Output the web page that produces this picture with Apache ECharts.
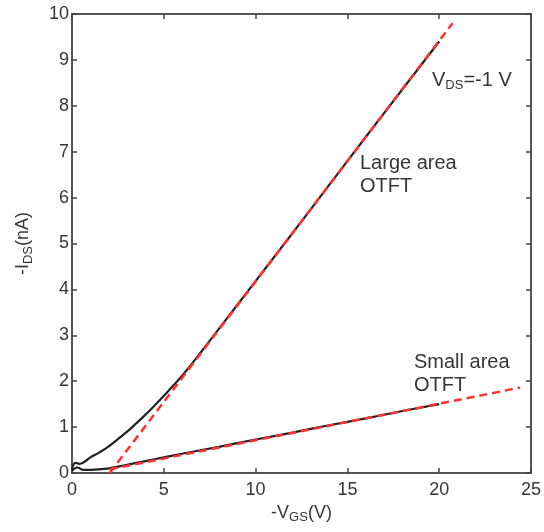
<!DOCTYPE html>
<html><head><meta charset="utf-8">
<script src="https://cdn.jsdelivr.net/npm/echarts@6/dist/echarts.min.js"></script>
<style>html,body{margin:0;padding:0;background:#fff}#c{width:544px;height:532px}</style>
</head><body><div id="c"></div>
<script>
var xTicks = [0, 5, 10, 15, 20, 25];
var yTicks = [0, 1, 2, 3, 4, 5, 6, 7, 8, 9, 10];
var largeMeasured = [[0,0.08],[0.2,0.22],[0.4,0.2],[0.7,0.25],[1,0.34],[1.5,0.45],[2,0.58],[2.5,0.74],[3,0.9],[3.5,1.08],[4,1.27],[4.5,1.47],[5,1.68],[5.5,1.9],[6,2.12],[7,2.62],[8,3.14],[10,4.18],[12,5.22],[14,6.27],[16,7.32],[18,8.36],[20,9.4]];
var largeFit = [[2.05,0],[20.73,9.8]];
var smallMeasured = [[0,0.05],[0.3,0.12],[0.6,0.07],[1,0.07],[2,0.1],[3,0.18],[4,0.26],[5,0.34],[6,0.42],[8,0.57],[10,0.73],[12,0.88],[14,1.04],[16,1.19],[18,1.35],[20,1.5]];
var smallFit = [[2.05,0.08],[24.4,1.86]];

var txt = '#363636';
var font = 'Liberation Sans, Arial, sans-serif';
var axisCommon = {
  min: 0,
  axisLine: {onZero: false, lineStyle: {color: '#555', width: 2}},
  axisTick: {inside: true, length: 5, lineStyle: {color: '#444', width: 1.5}},
  splitLine: {show: false}
};
var chart = echarts.init(document.getElementById('c'));
chart.setOption({
  animation: false,
  grid: {left: 72, right: 13, top: 14, bottom: 59},
  xAxis: [
    Object.assign({}, axisCommon, {type: 'value', max: 25, interval: 5, position: 'bottom',
      axisLabel: {color: txt, fontSize: 18, fontFamily: font, margin: 8},
      name: '-V{s|GS}(V)', nameLocation: 'middle', nameGap: 26,
      nameTextStyle: {color: txt, fontSize: 18, fontFamily: font,
        rich: {s: {fontSize: 13, fontFamily: font, color: txt, padding: [10, 0, 0, 0]}}}}),
    Object.assign({}, axisCommon, {type: 'value', max: 25, interval: 5, position: 'top',
      axisLabel: {show: false}})
  ],
  yAxis: [
    Object.assign({}, axisCommon, {type: 'value', max: 10, interval: 1, position: 'left',
      axisLabel: {color: txt, fontSize: 18, fontFamily: font, margin: 3},
      name: '-I{s|DS}(nA)', nameLocation: 'middle', nameGap: 37, nameRotate: 90,
      nameTextStyle: {color: txt, fontSize: 18, fontFamily: font,
        rich: {s: {fontSize: 13, fontFamily: font, color: txt, padding: [10, 0, 0, 0]}}}}),
    Object.assign({}, axisCommon, {type: 'value', max: 10, interval: 1, position: 'right',
      axisLabel: {show: false}})
  ],
  series: [
    {type: 'line', data: largeMeasured, smooth: true, symbol: 'none', lineStyle: {color: '#222', width: 2.2}, z: 2},
    {type: 'line', data: smallMeasured, smooth: true, symbol: 'none', lineStyle: {color: '#222', width: 2.2}, z: 2},
    {type: 'line', data: largeFit, symbol: 'none', lineStyle: {color: '#ff3030', width: 2.5, type: [8, 5]}, z: 3},
    {type: 'line', data: smallFit, symbol: 'none', lineStyle: {color: '#ff3030', width: 2.5, type: [8, 5]}, z: 3}
  ],
  graphic: [
    {type: 'text', left: 360, top: 152, style: {text: 'Large area\nOTFT', fill: txt, fontSize: 20, fontFamily: font, lineHeight: 23}},
    {type: 'text', left: 414, top: 351, style: {text: 'Small area\nOTFT', fill: txt, fontSize: 20, fontFamily: font, lineHeight: 23}},
    {type: 'text', left: 432, top: 70, style: {text: 'V{s|DS}=-1 V', fill: txt, fontSize: 20, fontFamily: font,
      rich: {s: {fontSize: 13, fontFamily: font, fill: txt, padding: [10, 0, 0, 0]}}}}
  ]
});
</script></body></html>
